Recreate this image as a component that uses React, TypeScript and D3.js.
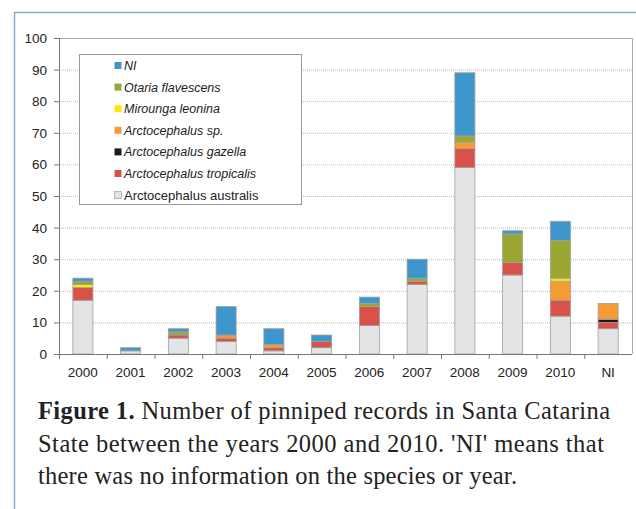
import React from "react";
import * as d3 from "d3";

const categories = ["2000", "2001", "2002", "2003", "2004", "2005", "2006", "2007", "2008", "2009", "2010", "NI"];
const australis = [17, 1, 5, 4, 1, 2, 9, 22, 59, 25, 12, 8];
const tropicalis = [4, 0, 1, 1, 1, 2, 6, 1, 6, 4, 5, 2];
const gazella = [0, 0, 0, 0, 0, 0, 0, 0, 0, 0, 0, 1];
const arctoSp = [0, 0, 0, 1, 1, 0, 0, 0, 2, 0, 6, 5];
const mirounga = [1, 0, 0, 0, 0, 0, 0, 0, 0, 0, 1, 0];
const otaria = [1, 0, 1, 0, 0, 0, 1, 1, 2, 9, 12, 0];
const niSpecies = [1, 1, 1, 9, 5, 2, 2, 6, 20, 1, 6, 0];
const yTicks = [0, 10, 20, 30, 40, 50, 60, 70, 80, 90, 100];

const series = [
  { name: "Arctocephalus australis", values: australis, color: "#e3e4e6", italic: false },
  { name: "Arctocephalus tropicalis", values: tropicalis, color: "#d9524a", italic: true },
  { name: "Arctocephalus gazella", values: gazella, color: "#1b1b1b", italic: true },
  { name: "Arctocephalus sp.", values: arctoSp, color: "#f39c34", italic: true },
  { name: "Mirounga leonina", values: mirounga, color: "#ffe800", italic: true },
  { name: "Otaria flavescens", values: otaria, color: "#9aa833", italic: true },
  { name: "NI", values: niSpecies, color: "#3d97cc", italic: true },
];

const captionLines = [
  [{ t: "Figure 1.", b: true }, { t: " Number of pinniped records in Santa Catarina", b: false }],
  [{ t: "State between the years 2000 and 2010. 'NI' means that", b: false }],
  [{ t: "there was no information on the species or year.", b: false }],
];
const captionWidths = [572, 566, 479];

export default function App() {
  const W = 636, H = 509;
  const left = 59, right = 632, top = 38, bottom = 354;
  const x = d3.scaleBand<string>().domain(categories).range([left, right]).paddingInner(0.58).paddingOuter(0.29);
  const xb = d3.scaleBand<string>().domain(categories).range([left, right]);
  const y = d3.scaleLinear().domain([0, 100]).range([bottom, top]);

  const rows = categories.map((c, i) => {
    const r: any = { cat: c };
    series.forEach((s, j) => (r["s" + j] = s.values[i]));
    return r;
  });
  const stack = d3.stack<any>().keys(series.map((_, j) => "s" + j))(rows);

  const font = "Arial, 'Liberation Sans', sans-serif";
  const legendSeries = [...series].reverse();

  return (
    <div style={{ position: "absolute", left: 0, top: 0 }}>
      <svg width={W} height={H} style={{ display: "block" }}>
        <rect x={0} y={0} width={W} height={H} fill="#fff" />
        <line x1={14.5} y1={12} x2={14.5} y2={H} stroke="#7eaed0" strokeWidth={1.5} />
        <line x1={14} y1={12.5} x2={W} y2={12.5} stroke="#7eaed0" strokeWidth={1.5} />

        {/* grid */}
        {yTicks.filter((t) => t > 0 && t < 100).map((t) => (
          <line key={t} x1={left} x2={right} y1={y(t) + 0.5} y2={y(t) + 0.5} stroke="#b8b8b8" strokeWidth={1} strokeDasharray="1,1" />
        ))}
        {/* plot frame top/right */}
        <line x1={left} x2={right} y1={top + 0.5} y2={top + 0.5} stroke="#aaa" />
        <line x1={right + 0.5} x2={right + 0.5} y1={top} y2={bottom} stroke="#aaa" />

        {/* bars */}
        {stack.map((layer, j) => (
          <g key={j}>
            {layer.map((d, i) => {
              const h = y(d[0]) - y(d[1]);
              if (h <= 0) return null;
              return (
                <rect key={i} x={x(categories[i])!} y={y(d[1])} width={x.bandwidth()} height={h}
                  fill={series[j].color} stroke="#a0a0a0" strokeWidth={0.8} />
              );
            })}
          </g>
        ))}

        {/* y axis */}
        <line x1={left + 0.5} x2={left + 0.5} y1={top} y2={bottom} stroke="#777" />
        {yTicks.map((t) => (
          <g key={t}>
            <line x1={left - 5} x2={left} y1={y(t) + 0.5} y2={y(t) + 0.5} stroke="#777" />
            <text x={47} y={y(t) + 5} textAnchor="end" fontFamily={font} fontSize={13.5} fill="#222">{t}</text>
          </g>
        ))}
        {/* x axis */}
        <line x1={left} x2={right} y1={bottom + 0.5} y2={bottom + 0.5} stroke="#777" />
        {categories.map((c) => (
          <g key={c}>
            <line x1={xb(c)! + 0.5} x2={xb(c)! + 0.5} y1={bottom} y2={bottom + 5} stroke="#777" />
            <text x={xb(c)! + xb.bandwidth() / 2} y={377} textAnchor="middle" fontFamily={font} fontSize={13.5} fill="#222">{c}</text>
          </g>
        ))}

        {/* legend */}
        <rect x={79.5} y={54.5} width={222} height={150} fill="#fff" stroke="#999" />
        {legendSeries.map((s, i) => {
          const cy = 65.5 + i * 21.6;
          return (
            <g key={s.name}>
              <rect x={114.5} y={cy - 3.5} width={7} height={7} fill={s.color} stroke={s.name.includes("australis") ? "#aaa" : "none"} strokeWidth={0.8} />
              <text x={124} y={cy + 4.5} fontFamily={font} fontSize={s.italic ? 12.5 : 13} fontStyle={s.italic ? "italic" : "normal"} fill="#222">{s.name}</text>
            </g>
          );
        })}

        {/* caption */}
        {captionLines.map((line, i) => (
          <text key={i} x={38} y={419 + i * 32.5} fontFamily="'Liberation Serif', 'Times New Roman', serif" fontSize={24.5}
            fill="#222" textLength={captionWidths[i]} lengthAdjust="spacing">
            {line.map((seg, k) => (
              <tspan key={k} fontWeight={seg.b ? "bold" : "normal"}>{seg.t}</tspan>
            ))}
          </text>
        ))}
      </svg>
    </div>
  );
}
